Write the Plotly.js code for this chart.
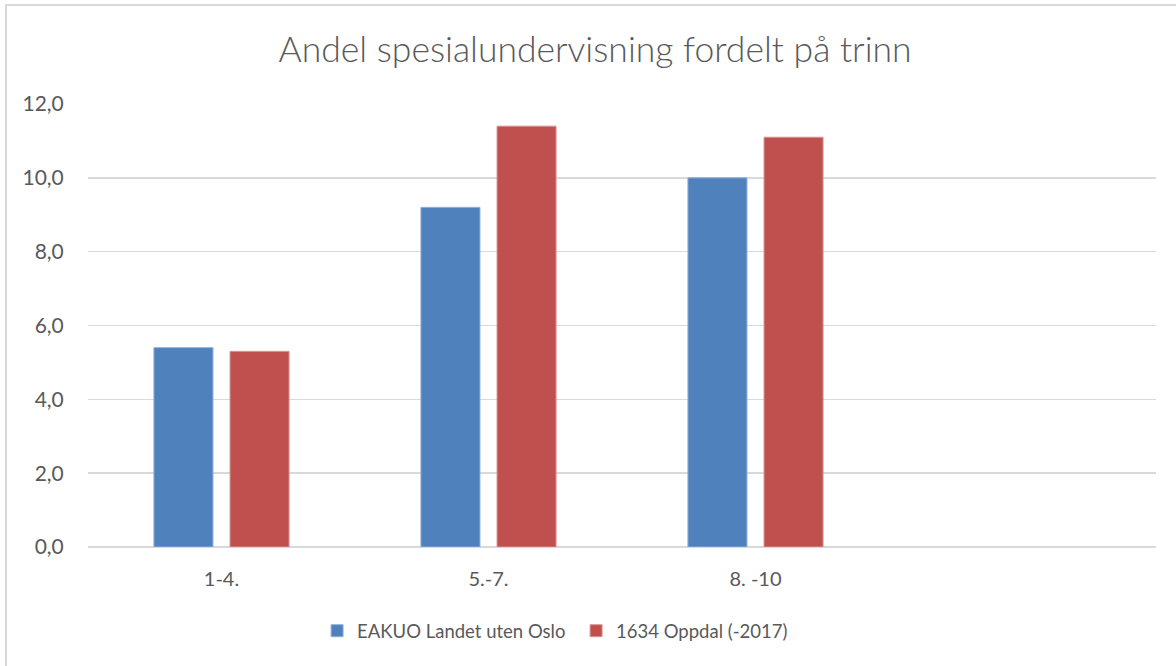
<!DOCTYPE html>
<html>
<head>
<meta charset="utf-8">
<script src="https://cdn.plot.ly/plotly-3.0.1.min.js"></script>
<style>
html, body { margin: 0; padding: 0; overflow: hidden; background: #fff; }
#chart { position: absolute; left: 0; top: 0; width: 1176px; height: 666px; }
#frame { position: absolute; left: 5px; top: 4px; width: 1300px; height: 1000px; border: 2px solid #d9d9d9; pointer-events: none; }
</style>
</head>
<body>
<div id="chart"></div>
<div id="frame"></div>
<script>
const categories = ["1-4.", "5.-7.", "8. -10", " "];
const seriesNames = ["EAKUO Landet uten Oslo", "1634 Oppdal (-2017)"];
const landetUtenOslo = [5.4, 9.2, 10.0, null];
const oppdal = [5.3, 11.4, 11.1, null];
const yTickVals = [0, 2, 4, 6, 8, 10, 12];
const yTickText = ["0,0", "2,0", "4,0", "6,0", "8,0", "10,0", "12,0"];

const colors = ["#4F81BD", "#C0504D"];
const edge = ["#8EB0DA", "#D99694"];
const textColor = "#595959";
const fontFam = "Lato, 'Open Sans', sans-serif";

const data = [
  { type: "bar", name: seriesNames[0], x: categories, y: landetUtenOslo,
    marker: { color: colors[0], line: { color: edge[0], width: 1 } }, hoverinfo: "skip" },
  { type: "bar", name: seriesNames[1], x: categories, y: oppdal,
    marker: { color: colors[1], line: { color: edge[1], width: 1 } }, hoverinfo: "skip" }
];

const layout = {
  width: 1176, height: 666,
  paper_bgcolor: "rgba(0,0,0,0)", plot_bgcolor: "#fff",
  margin: { l: 88, r: 20, t: 104, b: 119, pad: 0 },
  barmode: "group", bargap: 0.43, bargroupgap: 0.224,
  font: { family: fontFam, color: textColor, size: 20 },
  title: { text: "Andel spesialundervisning fordelt på trinn",
    font: { family: fontFam, size: 35.5, color: textColor, weight: 300 },
    xref: "container", yref: "container", x: 0.506, y: 0.925, xanchor: "center", yanchor: "middle" },
  xaxis: { type: "category", categoryarray: categories, categoryorder: "array",
    showgrid: false, zeroline: false, showline: false,
    ticks: "outside", ticklen: 14, tickcolor: "rgba(0,0,0,0)",
    tickfont: { family: fontFam, size: 20, color: textColor }, fixedrange: true },
  yaxis: { range: [0, 12], tickvals: yTickVals, ticktext: yTickText,
    showgrid: true, gridcolor: "#d9d9d9", gridwidth: 1.5,
    zeroline: true, zerolinecolor: "#d9d9d9", zerolinewidth: 1.5, showline: false,
    ticks: "outside", ticklen: 19, tickcolor: "rgba(0,0,0,0)",
    tickfont: { family: fontFam, size: 21, color: textColor }, fixedrange: true },
  showlegend: true,
  legend: { orientation: "h", x: 0.2145, xanchor: "left", y: -0.19, yanchor: "middle",
    entrywidth: 214, entrywidthmode: "pixels",
    font: { family: fontFam, size: 18.5, color: textColor },
    itemclick: false, itemdoubleclick: false, traceorder: "normal" }
};

Plotly.newPlot("chart", data, layout, { displayModeBar: false, staticPlot: true });
</script>
</body>
</html>
